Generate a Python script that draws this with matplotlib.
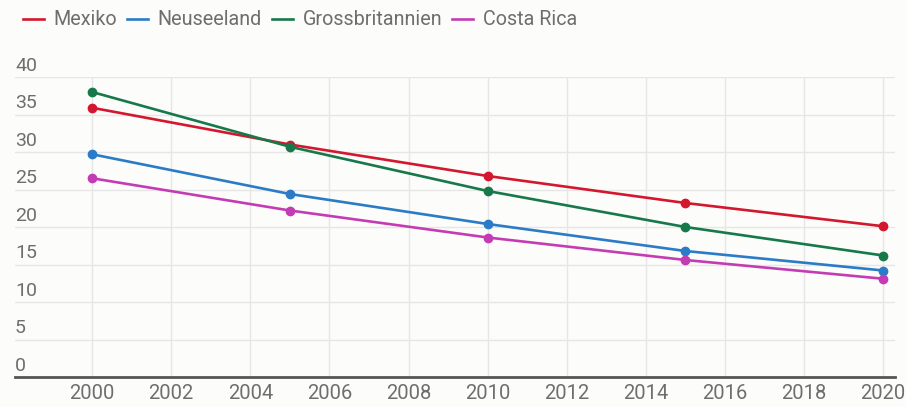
import matplotlib
matplotlib.use("Agg")
import matplotlib.pyplot as plt
import matplotlib.transforms as mtransforms

plt.rcParams['font.family'] = ['Roboto', 'DejaVu Sans']

# data
years = [2000, 2005, 2010, 2015, 2020]
mexiko = [35.9, 31.0, 26.8, 23.2, 20.1]
neuseeland = [29.7, 24.4, 20.4, 16.8, 14.2]
grossbritannien = [38.0, 30.7, 24.8, 20.0, 16.2]
costa_rica = [26.5, 22.2, 18.6, 15.6, 13.1]

names = ['Mexiko', 'Neuseeland', 'Grossbritannien', 'Costa Rica']
colors = ['#d3172e', '#2b7bc6', '#17784a', '#c43cb4']
yticks = [0, 5, 10, 15, 20, 25, 30, 35, 40]
xticks = list(range(2000, 2021, 2))

bg = '#fcfcfa'
txt = '#6e6e6e'
fig = plt.figure(figsize=(9.06, 4.07), dpi=100, facecolor=bg)
ax = fig.add_axes([15 / 906, 30 / 407, 880 / 906, 300 / 407], facecolor=bg)

for vals, name, c in zip([mexiko, neuseeland, grossbritannien, costa_rica], names, colors):
    ax.plot(years, vals, color=c, lw=1.9, marker='o', ms=6, label=name, zorder=3)

ax.set_xlim(1998.05, 2020.3)
ax.set_ylim(0, 40)
ax.set_xticks(xticks)
ax.set_yticks(yticks)
ax.grid(True, color='#e6e6e6', lw=1)
ax.set_axisbelow(True)
ax.tick_params(axis='both', length=0)
ax.tick_params(axis='x', labelsize=14.5, labelcolor=txt, pad=5)
ax.set_yticklabels([])
for s in ['top', 'right', 'left']:
    ax.spines[s].set_visible(False)
ax.spines['bottom'].set_color('#555555')
ax.spines['bottom'].set_linewidth(2)

# y labels sit above their grid lines
trans = mtransforms.blended_transform_factory(ax.transAxes, ax.transData)
for t in yticks:
    ax.text(0.0, t + 0.3, str(t), transform=trans, ha='left', va='bottom',
            fontsize=14, color=txt)

fig.legend(loc='upper left', bbox_to_anchor=(0.006, 1.018), ncol=4, frameon=False,
           handlelength=1.05, handletextpad=0.5, columnspacing=0.5,
           fontsize=14.2, labelcolor=txt)
leg = fig.legends[0]
for h in leg.legend_handles:
    h.set_marker('')

fig.savefig('out.png', dpi=100, facecolor=bg)
